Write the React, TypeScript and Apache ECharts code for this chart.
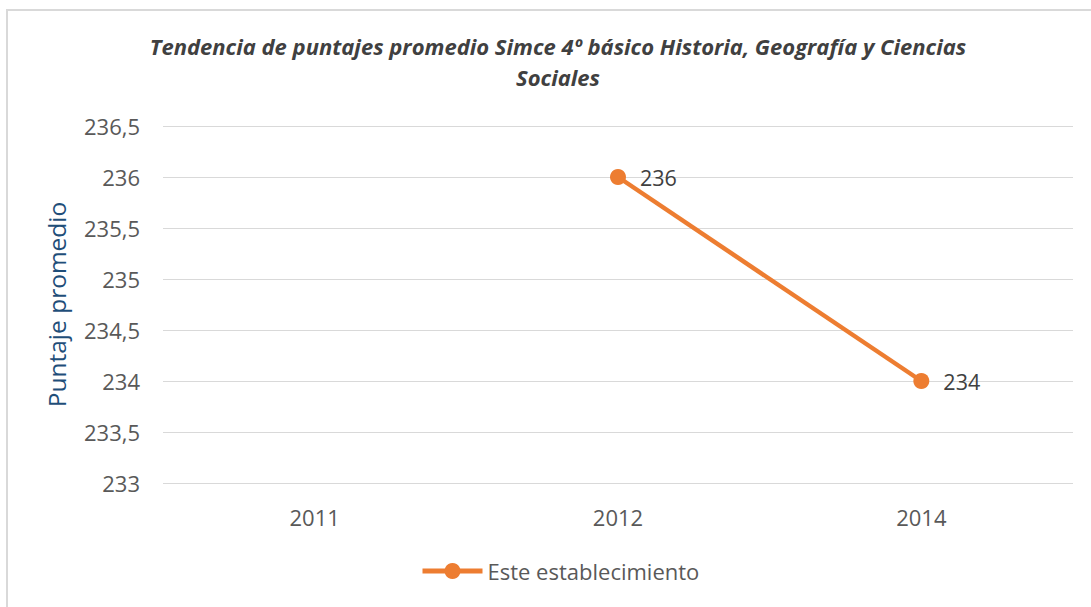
import React, { useEffect, useRef } from "react";
import * as echarts from "echarts";

const titleLines = [
  "Tendencia de puntajes promedio Simce 4º básico Historia, Geografía y Ciencias",
  "Sociales",
];
const categories = ["2011", "2012", "2014"];
const seriesName = "Este establecimiento";
const values: (number | null)[] = [null, 236, 234];
const yAxisName = "Puntaje promedio";
const yMin = 233;
const yMax = 236.5;
const yStep = 0.5;

export default function App() {
  const ref = useRef<HTMLDivElement>(null);
  useEffect(() => {
    if (!ref.current) return;
    const chart = echarts.init(ref.current, undefined, { renderer: "svg" });
    const font = "'Open Sans', sans-serif";
    chart.setOption({
      animation: false,
      backgroundColor: "#ffffff",
      textStyle: { fontFamily: font },
      title: {
        text: titleLines.join("\n"),
        left: 553,
        textAlign: "center",
        top: 25,
        textStyle: {
          fontFamily: font,
          fontSize: 22,
          fontWeight: "bold",
          fontStyle: "italic",
          color: "#404040",
          lineHeight: 31,
        },
      },
      graphic: [
        {
          type: "rect",
          shape: { x: 7, y: 10, width: 1200, height: 700 },
          style: { fill: "none", stroke: "#d9d9d9", lineWidth: 2 },
          silent: true,
        },
      ],
      legend: {
        bottom: 20,
        left: 415,
        itemWidth: 60,
        itemHeight: 20,
        itemGap: 6,
        data: [seriesName],
        itemStyle: { color: "#ed7d31" },
        lineStyle: { width: 5, color: "#ed7d31" },
        textStyle: { fontFamily: font, fontSize: 22, color: "#595959" },
      },
      grid: { left: 163, right: 18, top: 126, bottom: 124 },
      xAxis: {
        type: "category",
        data: categories,
        boundaryGap: true,
        axisLine: { show: false },
        axisTick: { show: false },
        axisLabel: { fontFamily: font, fontSize: 22, color: "#595959", margin: 23 },
      },
      yAxis: {
        type: "value",
        min: yMin,
        max: yMax,
        interval: yStep,
        name: yAxisName,
        nameLocation: "middle",
        nameGap: 94,
        nameTextStyle: { fontFamily: font, fontSize: 24.5, color: "#1f4e79" },
        axisLine: { show: false },
        axisTick: { show: false },
        axisLabel: {
          fontFamily: font,
          fontSize: 22,
          color: "#595959",
          margin: 23,
          formatter: (v: number) => String(v).replace(".", ","),
        },
        splitLine: { lineStyle: { color: "#d9d9d9", width: 1 } },
      },
      series: [
        {
          name: seriesName,
          type: "line",
          data: values,
          connectNulls: false,
          symbol: "circle",
          symbolSize: 16,
          itemStyle: { color: "#ed7d31" },
          lineStyle: { color: "#ed7d31", width: 4.5 },
          label: {
            show: true,
            position: "right",
            distance: 14,
            fontFamily: font,
            fontSize: 21.5,
            color: "#404040",
          },
        },
      ],
    });
    return () => chart.dispose();
  }, []);
  return (
    <div
      ref={ref}
      style={{ position: "fixed", left: 0, top: 0, width: 1091, height: 607 }}
    />
  );
}
